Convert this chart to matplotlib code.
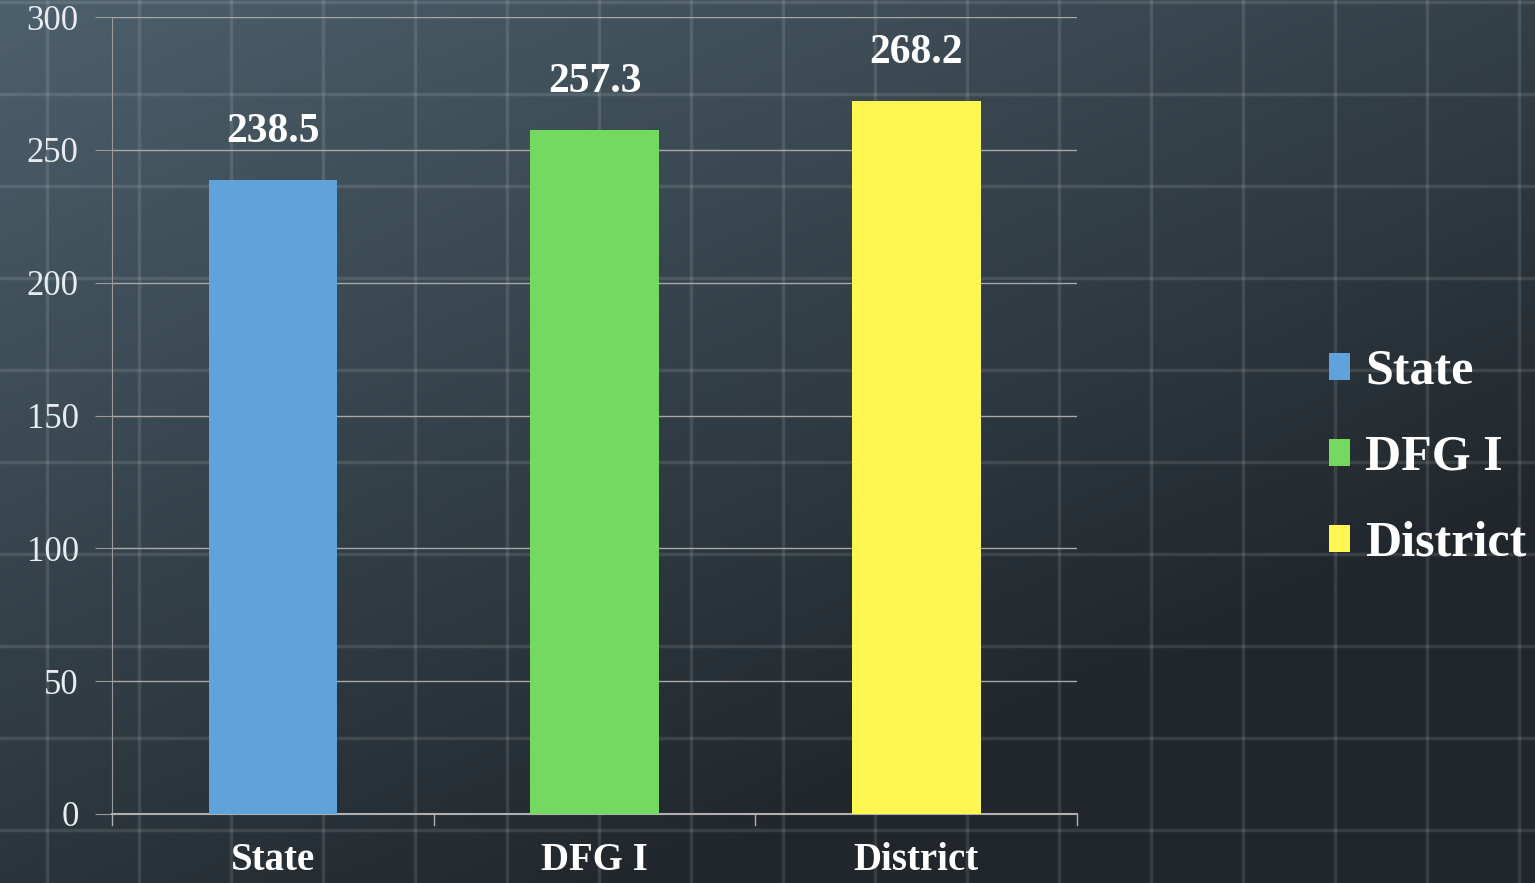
import numpy as np
import matplotlib.pyplot as plt
from matplotlib.patches import Patch

categories = ['State', 'DFG I', 'District']
values = [238.5, 257.3, 268.2]
colors = ['#5fa3da', '#74da5f', '#fef752']
yticks = [0, 50, 100, 150, 200, 250, 300]

W, H = 1535, 883
fig = plt.figure(figsize=(W / 100, H / 100), dpi=100)

# chalkboard-like background: diagonal gradient + faint grid
bg = fig.add_axes([0, 0, 1, 1], zorder=-10)
gx, gy = np.meshgrid(np.linspace(0, 1, 300), np.linspace(0, 1, 200))
t = np.clip(0.55 * gx + 0.75 * gy, 0, 1)
c0 = np.array([0x4c, 0x60, 0x6c]) / 255
c1 = np.array([0x20, 0x26, 0x2b]) / 255
img = c0[None, None, :] * (1 - t[..., None]) + c1[None, None, :] * t[..., None]
bg.imshow(img, extent=[0, W, H, 0], aspect='auto')
for x in np.arange(47, W, 92):
    bg.axvline(x, color='white', alpha=0.11, lw=2.5)
for y in np.arange(2, H, 92):
    bg.axhline(y, color='white', alpha=0.11, lw=2.5)
bg.set_xlim(0, W)
bg.set_ylim(H, 0)
bg.axis('off')

ax = fig.add_axes([112 / W, 1 - 814 / H, (1077 - 112) / W, (814 - 17) / H])
ax.patch.set_alpha(0)
x = np.arange(len(categories))
bars = ax.bar(x, values, width=0.4, color=colors, zorder=3)

ax.set_xlim(-0.5, 2.5)
ax.set_ylim(0, 300)
ax.set_yticks(yticks)
ax.set_yticklabels([str(v) for v in yticks], fontsize=25, color='#e8ecee',
                   family='Liberation Serif')
ax.set_xticks(x)
ax.set_xticklabels(categories, fontsize=28, fontweight='bold', color='white',
                   family='Liberation Serif')
ax.tick_params(axis='x', length=0, pad=20)
ax.tick_params(axis='y', length=12, color='#9a9a9a', pad=12)
for b in [-0.5, 0.5, 1.5, 2.5]:
    ax.plot([b, b], [0, -4], color='#b0b0b0', lw=1, clip_on=False)

ax.grid(axis='y', color='#a8a8a8', lw=1, zorder=1)
for s in ['top', 'right']:
    ax.spines[s].set_visible(False)
ax.spines['left'].set_color('#9a9a9a')
ax.spines['bottom'].set_color('#b0b0b0')
ax.spines['bottom'].set_linewidth(1.5)

for xi, v in zip(x, values):
    ax.text(xi, v + 11, f'{v}', ha='center', va='bottom', fontsize=30,
            fontweight='bold', color='white', family='Liberation Serif')

handles = [Patch(facecolor=c, edgecolor='none') for c in colors]
leg = fig.legend(handles, categories, loc='center left',
                 bbox_to_anchor=(1329 / W, 1 - 458 / H), frameon=False,
                 borderpad=0, borderaxespad=0,
                 prop={'family': 'Liberation Serif', 'weight': 'bold', 'size': 36},
                 handlelength=0.42, handleheight=0.46, handletextpad=0.3,
                 labelspacing=0.8, labelcolor='white')

fig.savefig('out.png', dpi=100)
